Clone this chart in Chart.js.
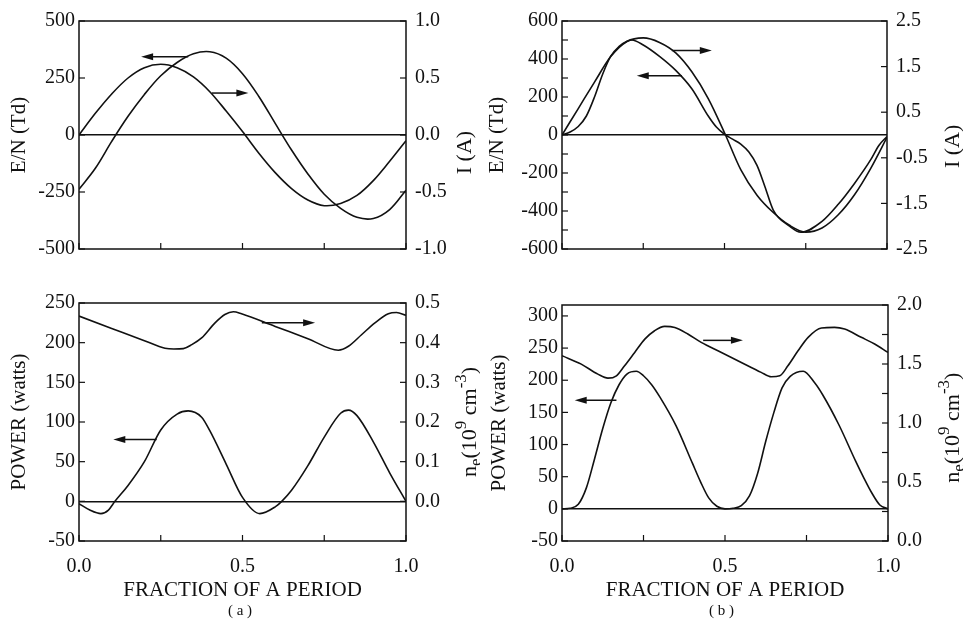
<!DOCTYPE html>
<html lang="en">
<head>
<meta charset="UTF-8">
<title>E/N, current, power and electron density over one period</title>
<script src="https://cdn.jsdelivr.net/npm/chart.js"></script>
<style>
  body { margin: 0; background: #fff; }
  #fig { position: relative; width: 963px; height: 619px; background: #fff; }
  #fig canvas { position: absolute; }
</style>
</head>
<body>
<div id="fig">
  <canvas id="a1" width="480" height="270" style="left:0;top:0"></canvas>
  <canvas id="b1" width="483" height="270" style="left:480px;top:0"></canvas>
  <canvas id="a2" width="480" height="339" style="left:0;top:280px"></canvas>
  <canvas id="b2" width="483" height="339" style="left:480px;top:280px"></canvas>
</div>
<script>
// ---- values ----
// (a) top: E/N in Td (left axis) and current in A (right axis)
const a1X  = [0, 0.05, 0.1, 0.15, 0.2, 0.25, 0.3, 0.35, 0.4, 0.45, 0.5, 0.55, 0.6, 0.65, 0.7, 0.75, 0.8, 0.85, 0.9, 0.95, 1.0];
const a1EN = [-238, -146, -28, 82, 178, 260, 318, 356, 365, 337, 269, 169, 51, -66, -171, -260, -322, -361, -366, -327, -242];
const a1I  = [0.0, 0.19, 0.36, 0.50, 0.59, 0.62, 0.59, 0.51, 0.38, 0.21, 0.03, -0.16, -0.33, -0.47, -0.57, -0.62, -0.60, -0.53, -0.40, -0.23, -0.05];

// (a) bottom: power in watts (left) and electron density in 1e9 cm^-3 (right)
const a2PX = [0, 0.033, 0.067, 0.09, 0.11, 0.15, 0.2, 0.25, 0.3, 0.334, 0.375, 0.4, 0.45, 0.5, 0.553, 0.6, 0.62, 0.65, 0.7, 0.75, 0.8, 0.824, 0.85, 0.9, 0.95, 1.0];
const a2P  = [-3, -11, -15.5, -11, 0, 20, 50, 90, 110, 114, 106, 89, 47, 5, -15.5, -7, 0, 14, 45, 81, 111, 115, 108, 75, 36, 0];
const a2NX = [0, 0.1, 0.2, 0.263, 0.29, 0.319, 0.345, 0.375, 0.416, 0.446, 0.472, 0.497, 0.6, 0.7, 0.793, 0.824, 0.864, 0.905, 0.946, 0.971, 1.0];
const a2N  = [0.467, 0.436, 0.405, 0.386, 0.384, 0.385, 0.395, 0.412, 0.45, 0.471, 0.478, 0.473, 0.441, 0.41, 0.381, 0.391, 0.42, 0.45, 0.473, 0.476, 0.469];

// (b) top
const b1ENX = [0, 0.025, 0.05, 0.075, 0.1, 0.125, 0.15, 0.175, 0.2, 0.215, 0.25, 0.3, 0.35, 0.4, 0.45, 0.475, 0.5, 0.525, 0.55, 0.575, 0.6, 0.625, 0.65, 0.7, 0.735, 0.8, 0.85, 0.9, 0.95, 0.975, 1.0];
const b1EN  = [0, 16, 45, 100, 200, 320, 415, 465, 493, 500, 474, 414, 340, 242, 100, 42, 4, -22, -48, -90, -160, -275, -395, -480, -512, -455, -365, -255, -130, -55, -8];
const b1IX  = [0, 0.05, 0.1, 0.15, 0.2, 0.25, 0.3, 0.35, 0.4, 0.45, 0.5, 0.55, 0.6, 0.65, 0.7, 0.75, 0.8, 0.85, 0.9, 0.95, 1.0];
const b1I   = [0, 0.58, 1.16, 1.72, 2.05, 2.13, 2.03, 1.80, 1.38, 0.80, 0.05, -0.76, -1.32, -1.70, -1.98, -2.13, -2.04, -1.75, -1.31, -0.73, -0.05];

// (b) bottom
const b2PX = [0, 0.025, 0.05, 0.075, 0.1, 0.125, 0.15, 0.175, 0.2, 0.228, 0.25, 0.275, 0.3, 0.35, 0.4, 0.425, 0.45, 0.475, 0.5, 0.525, 0.55, 0.575, 0.6, 0.625, 0.65, 0.675, 0.7, 0.74, 0.775, 0.8, 0.85, 0.9, 0.925, 0.95, 0.975, 1.0];
const b2P  = [0, 1, 7, 33, 78, 125, 165, 193, 210, 214, 207, 193, 174, 129, 71, 42, 17, 4, 0, 1, 5, 20, 55, 105, 150, 188, 206, 214, 196, 177, 130, 75, 49, 25, 6, 0];
const b2NX = [0, 0.059, 0.11, 0.141, 0.167, 0.192, 0.223, 0.254, 0.284, 0.315, 0.346, 0.386, 0.427, 0.489, 0.55, 0.611, 0.642, 0.668, 0.693, 0.724, 0.755, 0.796, 0.836, 0.867, 0.918, 0.959, 1.0];
const b2N  = [1.57, 1.499, 1.414, 1.38, 1.40, 1.485, 1.598, 1.711, 1.782, 1.819, 1.81, 1.754, 1.683, 1.598, 1.513, 1.429, 1.392, 1.40, 1.485, 1.612, 1.726, 1.805, 1.81, 1.796, 1.726, 1.669, 1.598];

// tick values
const xTicks   = [0, 0.25, 0.5, 0.75, 1];
const a1TicksL = [-500, -250, 0, 250, 500];
const a1TicksR = [-1, -0.5, 0, 0.5, 1];
const b1TicksL = [-600, -400, -200, 0, 200, 400, 600];
const b1MinorL = [-500, -300, -100, 100, 300, 500];
const b1TicksR = [-2.5, -1.5, -0.5, 0.5, 1.5, 2.5];
const a2TicksL = [-50, 0, 50, 100, 150, 200, 250];
const a2TicksR = [-0.1, 0, 0.1, 0.2, 0.3, 0.4, 0.5];
const b2TicksL = [-50, 0, 50, 100, 150, 200, 250, 300];
const b2TicksR = [0, 0.5, 1, 1.5, 2];
const b2MinorR = [0.25, 0.75, 1.25, 1.75];

// arrows: [tail x, head x, y on left axis]
const a1Arrows = [[0.334, 0.19, 343], [0.406, 0.518, 184]];
const b1Arrows = [[0.338, 0.461, 445], [0.369, 0.23, 312]];
const a2Arrows = [[0.559, 0.722, 225], [0.2375, 0.105, 78]];
const b2Arrows = [[0.433, 0.555, 262], [0.167, 0.039, 169]];

const SERIF = "'Liberation Serif', 'Times New Roman', serif";
const INK = '#111';
Chart.defaults.font.family = SERIF;
Chart.defaults.color = INK;

// smooth: 'default' (bezier) for the evenly sampled sine-like traces, 'monotone' elsewhere
function line(xs, ys, axis, mode) {
    return {
        data: xs.map((x, i) => ({ x: x, y: ys[i] })),
        yAxisID: axis,
        borderColor: INK,
        borderWidth: 1.6,
        pointRadius: 0,
        tension: 0.35,
        cubicInterpolationMode: mode || 'monotone',
        fill: false
    };
}

// frame, inward ticks, arrows and the right-hand title (reads bottom to top)
const panelPlugin = {
    id: 'panel',
    afterDatasetsDraw(chart, args, opts) {
        const { ctx, chartArea: a, scales } = chart;
        const x = scales.x, yl = scales.yL, yr = scales.yR;
        const seg = (x0, y0, x1, y1) => { ctx.beginPath(); ctx.moveTo(x0, y0); ctx.lineTo(x1, y1); ctx.stroke(); };
        ctx.save();
        ctx.strokeStyle = INK;
        ctx.fillStyle = INK;
        ctx.lineWidth = 1.5;
        ctx.strokeRect(a.left, a.top, a.right - a.left, a.bottom - a.top);

        ctx.lineWidth = 1.2;
        x.ticks.forEach(t => {
            const px = x.getPixelForValue(t.value);
            seg(px, a.bottom, px, a.bottom - 6);
        });
        yl.ticks.map(t => t.value).concat(opts.minorL || []).forEach(v => {
            const py = yl.getPixelForValue(v);
            seg(a.left, py, a.left + 6, py);
        });
        yr.ticks.map(t => t.value).concat(opts.minorR || []).forEach(v => {
            const py = yr.getPixelForValue(v);
            seg(a.right, py, a.right - 6, py);
        });

        ctx.lineWidth = 1.5;
        opts.arrows.forEach(([from, to, y]) => {
            const p0 = x.getPixelForValue(from), p1 = x.getPixelForValue(to), py = yl.getPixelForValue(y);
            const dir = Math.sign(p1 - p0);
            seg(p0, py, p1 - dir * 8, py);
            ctx.beginPath();
            ctx.moveTo(p1, py);
            ctx.lineTo(p1 - dir * 12, py - 3.5);
            ctx.lineTo(p1 - dir * 12, py + 3.5);
            ctx.closePath();
            ctx.fill();
        });

        // right title, built from pieces so sub/superscripts work
        const size = 22;
        const parts = opts.rightTitle.map(([txt, scale, shift]) => {
            ctx.font = Math.round(size * scale) + 'px ' + SERIF;
            return { txt, font: ctx.font, w: ctx.measureText(txt).width, dy: shift * size };
        });
        const total = parts.reduce((s, p) => s + p.w, 0);
        ctx.translate(a.right + opts.rightTitleDX, a.top + (a.bottom - a.top) * opts.rightTitleFY);
        ctx.rotate(-Math.PI / 2);
        ctx.textBaseline = 'middle';
        let cx = -total / 2;
        parts.forEach(p => {
            ctx.font = p.font;
            ctx.fillText(p.txt, cx, p.dy);
            cx += p.w;
        });
        ctx.restore();
    }
};
Chart.register(panelPlugin);

function makePanel(id, s) {
    const tickFont = { size: 20 };
    const titleFont = { size: 21 };
    const setTicks = vals => axis => { axis.ticks = vals.map(v => ({ value: v })); };
    const options = {
        responsive: false,
        animation: false,
        devicePixelRatio: 1,
        layout: { padding: { top: s.top, left: 0, right: 0, bottom: 0 } },
        plugins: {
            legend: { display: false },
            tooltip: { enabled: false },
            subtitle: {
                display: !!s.caption,
                text: s.caption || '',
                position: 'bottom',
                color: INK,
                font: { size: 15, lineHeight: 1 },
                padding: { top: 0, bottom: 0 }
            },
            panel: {
                arrows: s.arrows,
                minorL: s.minorL,
                minorR: s.minorR,
                rightTitle: s.rightTitle,
                rightTitleDX: s.rightTitleDX,
                rightTitleFY: s.rightTitleFY
            }
        },
        scales: {
            x: {
                type: 'linear',
                min: 0,
                max: 1,
                position: 'bottom',
                grid: { display: false, drawTicks: false },
                border: { display: false },
                afterBuildTicks: setTicks(xTicks),
                ticks: {
                    display: s.xLabels,
                    font: tickFont,
                    padding: 14,
                    maxRotation: 0,
                    autoSkip: false,
                    callback: v => (v === 0.25 || v === 0.75) ? '' : v.toFixed(1)
                },
                title: {
                    display: s.xLabels,
                    text: 'FRACTION OF A PERIOD',
                    font: titleFont,
                    padding: { top: 0, bottom: 1 }
                },
                afterFit: axis => { axis.height = s.xH; }
            },
            yL: {
                type: 'linear',
                position: 'left',
                min: s.yL.min,
                max: s.yL.max,
                afterBuildTicks: setTicks(s.yL.ticks),
                grid: {
                    drawTicks: false,
                    lineWidth: 1.5,
                    color: c => (c.tick && c.tick.value === 0) ? INK : 'rgba(0,0,0,0)'
                },
                border: { display: false },
                ticks: { font: tickFont, padding: 4, callback: v => String(v) },
                title: { display: true, text: s.yL.title, font: titleFont, padding: { top: s.yL.titlePad, bottom: 0 } },
                afterFit: axis => { axis.width = s.leftW; }
            },
            yR: {
                type: 'linear',
                position: 'right',
                min: s.yR.min,
                max: s.yR.max,
                afterBuildTicks: setTicks(s.yR.ticks),
                grid: { display: false, drawTicks: false },
                border: { display: false },
                ticks: { font: tickFont, padding: 9, callback: v => v < -0.05 && s.yR.hideNeg ? '' : v.toFixed(1) },
                afterFit: axis => { axis.width = s.rightW; }
            }
        }
    };
    return new Chart(document.getElementById(id), { type: 'line', data: { datasets: s.series }, options: options });
}

const neTitle = [['n', 1, 0], ['e', 0.75, 0.3], ['(10', 1, 0], ['9', 0.75, -0.38], [' cm', 1, 0], ['-3', 0.75, -0.38], [')', 1, 0]];

makePanel('a1', {
    top: 15, leftW: 79, rightW: 74, xH: 16, xLabels: false,
    yL: { min: -500, max: 500, ticks: a1TicksL, title: 'E/N (Td)', titlePad: 7 },
    yR: { min: -1, max: 1, ticks: a1TicksR },
    series: [line(a1X, a1EN, 'yL', 'default'), line(a1X, a1I, 'yR', 'default')],
    arrows: a1Arrows,
    rightTitle: [['I (A)', 1, 0]], rightTitleDX: 59, rightTitleFY: 0.577
});

makePanel('b1', {
    top: 21, leftW: 82, rightW: 76, xH: 15, xLabels: false,
    yL: { min: -600, max: 600, ticks: b1TicksL, title: 'E/N (Td)', titlePad: 5 },
    yR: { min: -2.5, max: 2.5, ticks: b1TicksR },
    minorL: b1MinorL,
    series: [line(b1ENX, b1EN, 'yL'), line(b1IX, b1I, 'yR')],
    arrows: b1Arrows,
    rightTitle: [['I (A)', 1, 0]], rightTitleDX: 66, rightTitleFY: 0.55
});

makePanel('a2', {
    top: 23, leftW: 79, rightW: 74, xH: 63, xLabels: true, caption: '( a )',
    yL: { min: -50, max: 250, ticks: a2TicksL, title: 'POWER (watts)', titlePad: 7 },
    yR: { min: -0.1, max: 0.5, ticks: a2TicksR, hideNeg: true },
    series: [line(a2PX, a2P, 'yL'), line(a2NX, a2N, 'yR')],
    arrows: a2Arrows,
    rightTitle: neTitle, rightTitleDX: 64, rightTitleFY: 0.5
});

makePanel('b2', {
    top: 25, leftW: 82, rightW: 75, xH: 63, xLabels: true, caption: '( b )',
    yL: { min: -50, max: 317, ticks: b2TicksL, title: 'POWER (watts)', titlePad: 7 },
    yR: { min: 0, max: 2, ticks: b2TicksR },
    minorR: b2MinorR,
    series: [line(b2PX, b2P, 'yL'), line(b2NX, b2N, 'yR')],
    arrows: b2Arrows,
    rightTitle: neTitle, rightTitleDX: 65, rightTitleFY: 0.52
});
</script>
</body>
</html>
